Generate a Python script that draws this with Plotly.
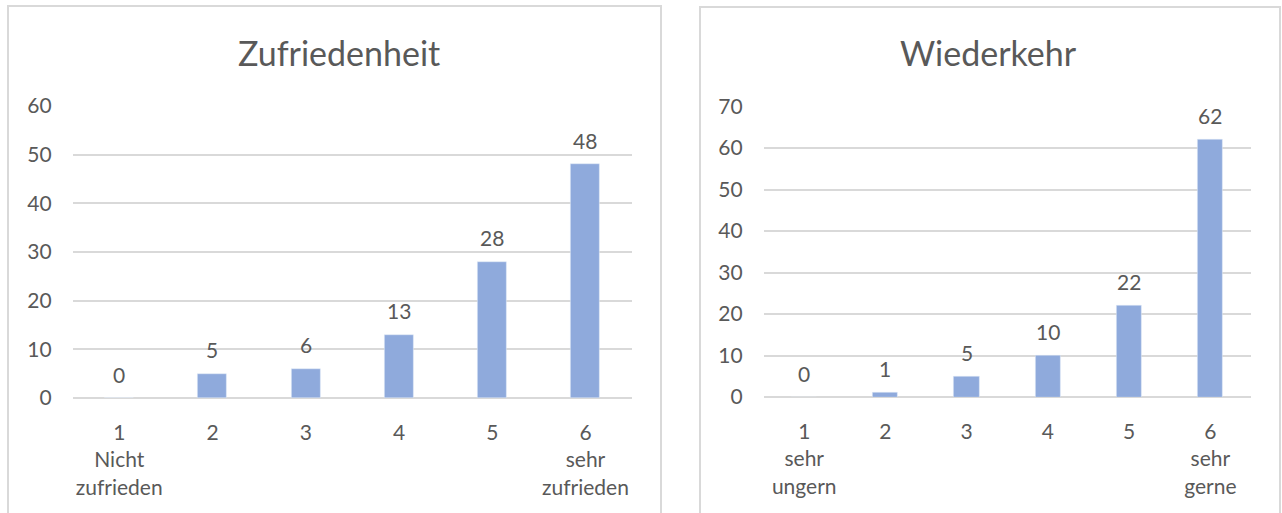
import plotly.graph_objects as go

# Survey results: answer counts per rating (1 = worst, 6 = best)
categories = ["1", "2", "3", "4", "5", "6"]

satisfaction_title = "Zufriedenheit"
satisfaction_counts = [0, 5, 6, 13, 28, 48]
satisfaction_ticks = ["1<br>Nicht<br>zufrieden", "2", "3", "4", "5", "6<br>sehr<br>zufrieden"]

return_title = "Wiederkehr"
return_counts = [0, 1, 5, 10, 22, 62]
return_ticks = ["1<br>sehr<br>ungern", "2", "3", "4", "5", "6<br>sehr<br>gerne"]

W, H = 1282, 513
FONT = "Lato, Calibri, sans-serif"
TEXT = "#595959"
GRID = "#D9D9D9"
BAR = "#8FAADC"


def px_x(v):
    return v / W


def px_y(v):
    return 1 - v / H


fig = go.Figure()

fig.add_trace(go.Bar(x=categories, y=satisfaction_counts, marker_color=BAR,
                     width=0.31, xaxis="x", yaxis="y", hoverinfo="skip"))
fig.add_trace(go.Bar(x=categories, y=return_counts, marker_color=BAR,
                     width=0.31, xaxis="x2", yaxis="y2", hoverinfo="skip"))

annotations = []
# value labels above each bar (category axes take the position index)
for xref, yref, vals in (("x", "y", satisfaction_counts), ("x2", "y2", return_counts)):
    for i, v in enumerate(vals):
        annotations.append(dict(x=i, y=v, xref=xref, yref=yref, text=str(v),
                                showarrow=False, yanchor="middle", yshift=24,
                                font=dict(family=FONT, size=21, color=TEXT)))

# chart titles
annotations.append(dict(x=px_x(338.5), y=px_y(52), xref="paper", yref="paper",
                        text=satisfaction_title, showarrow=False,
                        xanchor="center", yanchor="middle",
                        font=dict(family=FONT, size=34, color=TEXT)))
annotations.append(dict(x=px_x(988.5), y=px_y(52), xref="paper", yref="paper",
                        text=return_title, showarrow=False,
                        xanchor="center", yanchor="middle",
                        font=dict(family=FONT, size=34, color=TEXT)))

# chart frames
shapes = [
    dict(type="rect", xref="paper", yref="paper",
         x0=px_x(8), x1=px_x(661), y0=-0.1, y1=px_y(6),
         line=dict(color=GRID, width=2), fillcolor="rgba(0,0,0,0)", layer="below"),
    dict(type="rect", xref="paper", yref="paper",
         x0=px_x(700), x1=px_x(1280), y0=-0.1, y1=px_y(7),
         line=dict(color=GRID, width=2), fillcolor="rgba(0,0,0,0)", layer="below"),
]

tickfont = dict(family=FONT, size=21, color=TEXT)

xaxis_common = dict(type="category", showgrid=False, zeroline=False, showline=False,
                    ticks="", tickfont=tickfont, range=[-0.5, 5.5], automargin=False,
                    ticklabelstandoff=20, fixedrange=True)
yaxis_common = dict(showgrid=True, gridcolor=GRID, gridwidth=1.5, zeroline=True,
                    zerolinecolor=GRID, zerolinewidth=1.5, showline=False, ticks="",
                    tickfont=tickfont, ticklabelstandoff=20, automargin=False,
                    fixedrange=True)

fig.update_layout(
    width=W, height=H,
    margin=dict(l=0, r=0, t=0, b=0, pad=0),
    paper_bgcolor="white", plot_bgcolor="white",
    showlegend=False,
    bargap=0,
    xaxis=dict(xaxis_common, domain=[px_x(72.6), px_x(632.1)], anchor="y",
               tickvals=categories, ticktext=satisfaction_ticks),
    yaxis=dict(yaxis_common, domain=[px_y(398), px_y(106)], anchor="x",
               range=[0, 60], dtick=10),
    xaxis2=dict(xaxis_common, domain=[px_x(763.6), px_x(1251)], anchor="y2",
                tickvals=categories, ticktext=return_ticks),
    yaxis2=dict(yaxis_common, domain=[px_y(397), px_y(106.5)], anchor="x2",
                range=[0, 70], dtick=10),
    annotations=annotations,
    shapes=shapes,
)

fig.write_html("out.html", config={"displayModeBar": False})
